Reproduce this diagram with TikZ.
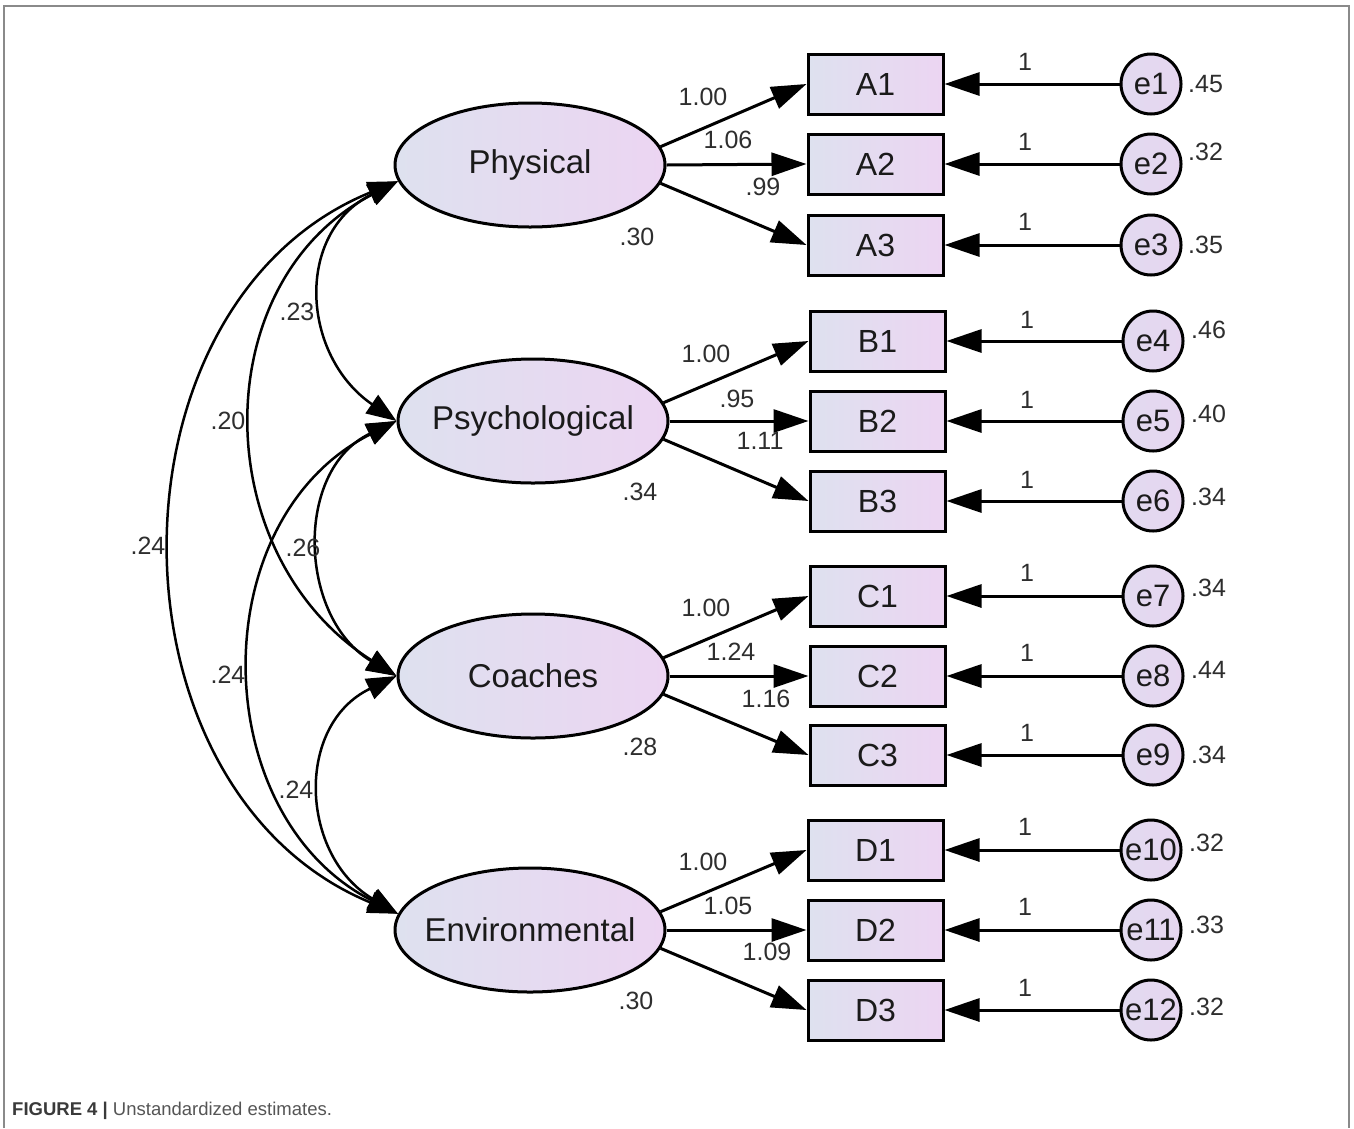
\documentclass[tikz,border=0pt]{standalone}
\usepackage{fontspec}
\setmainfont{Liberation Sans}
\usetikzlibrary{arrows.meta,shapes.geometric}
\definecolor{lc}{HTML}{DEE1EF}
\definecolor{rc}{HTML}{ECD5F2}
\definecolor{ec}{HTML}{E6D6F0}
\definecolor{ecl}{HTML}{E2DAF0}
\definecolor{numc}{HTML}{2E2E2E}
\definecolor{txtc}{HTML}{1A1A1A}
\definecolor{framec}{HTML}{8A8A8A}
\definecolor{capb}{HTML}{3A3A3A}
\definecolor{capg}{HTML}{555555}
\begin{document}
\begin{tikzpicture}[x=1pt,y=-1pt,
  lat/.style={ellipse,draw=black,line width=3pt,minimum width=270pt,minimum height=124pt,inner sep=0pt,left color=lc,right color=rc},
  lattxt/.style={text=txtc,font=\fontsize{33}{38}\selectfont,inner sep=0pt},
  obs/.style={rectangle,draw=black,line width=3pt,minimum width=135pt,minimum height=60pt,inner sep=0pt,left color=lc,right color=rc,text=txtc,font=\fontsize{32}{36}\selectfont},
  err/.style={circle,draw=black,line width=3pt,minimum size=60pt,inner sep=0pt,left color=ecl,right color=ec,text=txtc,font=\fontsize{31}{36}\selectfont},
  num/.style={text=numc,font=\fontsize{25}{29}\selectfont,inner sep=0pt},
  load/.style={draw=black,line width=3pt,-{Triangle[length=35pt,width=23pt]}},
  cov/.style={draw=black,line width=2.5pt,{Triangle[length=30pt,width=22pt]}-{Triangle[length=30pt,width=22pt]}}
]
\useasboundingbox (0,0) rectangle (1354,1128);
\fill[white] (0,0) rectangle (1354,1128);
\draw[framec,line width=2pt] (4,1128) -- (4,6) -- (1349,6) -- (1349,1128);

% latent variables
\node[lat] (P) at (530,165) {};
\node[lattxt] (Pt) at (P) {Physical};
\node[lat] (S) at (533,421) {};
\node[lattxt] (St) at (S) {Psychological};
\node[lat] (C) at (533,676) {};
\node[lattxt] (Ct) at (C) {Coaches};
\node[lat] (E) at (530,930) {};
\node[lattxt] (Et) at (E) {Environmental};

% observed
\node[obs] (A1) at (875.5,84) {A1};
\node[obs] (A2) at (875.5,164) {A2};
\node[obs] (A3) at (875.5,245) {A3};
\node[obs] (B1) at (877.5,341) {B1};
\node[obs] (B2) at (877.5,421) {B2};
\node[obs] (B3) at (877.5,501) {B3};
\node[obs] (C1) at (877.5,596) {C1};
\node[obs] (C2) at (877.5,676) {C2};
\node[obs] (C3) at (877.5,755) {C3};
\node[obs] (D1) at (875.5,850) {D1};
\node[obs] (D2) at (875.5,930) {D2};
\node[obs] (D3) at (875.5,1010) {D3};

% errors
\node[err] (e1) at (1151,84) {e1};
\node[err] (e2) at (1151,164) {e2};
\node[err] (e3) at (1151,245) {e3};
\node[err] (e4) at (1153,341) {e4};
\node[err] (e5) at (1153,421) {e5};
\node[err] (e6) at (1153,501) {e6};
\node[err] (e7) at (1153,596) {e7};
\node[err] (e8) at (1153,676) {e8};
\node[err] (e9) at (1153,755) {e9};
\node[err] (e10) at (1151,850) {e10};
\node[err] (e11) at (1151,930) {e11};
\node[err] (e12) at (1151,1010) {e12};

% loadings
\foreach \L/\a/\b/\c in {P/A1/A2/A3,S/B1/B2/B3,C/C1/C2/C3,E/D1/D2/D3}{
  \draw[load] (\L.8) -- (\a.west);
  \draw[load] (\L.east) -- (\b.west);
  \draw[load] (\L.-8) -- (\c.west);
}
% error paths
\foreach \e/\o in {e1/A1,e2/A2,e3/A3,e4/B1,e5/B2,e6/B3,e7/C1,e8/C2,e9/C3,e10/D1,e11/D2,e12/D3}{
  \draw[load] (\e) -- (\o.east);
}

% covariances
\draw[cov] (P.187) .. controls +(-104,52) and +(-95,-65) .. (S.west);
\draw[cov] (P.187) .. controls +(-193,100) and +(-190,-120) .. (C.west);
\draw[cov] (P.187) .. controls +(-300,122) and +(-299,-123) .. (E.173);
\draw[cov] (S.west) .. controls +(-103,49) and +(-98,-58) .. (C.west);
\draw[cov] (S.west) .. controls +(-195,99) and +(-192,-98) .. (E.173);
\draw[cov] (C.west) .. controls +(-102,49) and +(-98,-58) .. (E.173);

% covariance labels
\node[num] (k1) at (297,312) {.23};
\node[num] (k2) at (228,421) {.20};
\node[num] (k3) at (148,546) {.24};
\node[num] (k4) at (303,548) {.26};
\node[num] (k5) at (228,675) {.24};
\node[num] (k6) at (296,790) {.24};

% loading labels
\node[num] (l1) at (703,97) {1.00};
\node[num] (l2) at (728,140) {1.06};
\node[num] (l3) at (763,187) {.99};
\node[num] (l4) at (706,354) {1.00};
\node[num] (l5) at (737,399) {.95};
\node[num] (l6) at (760,441) {1.11};
\node[num] (l7) at (706,608) {1.00};
\node[num] (l8) at (731,652) {1.24};
\node[num] (l9) at (766,699) {1.16};
\node[num] (l10) at (703,862) {1.00};
\node[num] (l11) at (728,906) {1.05};
\node[num] (l12) at (767,952) {1.09};

% latent variances
\node[num] (v1) at (637,237) {.30};
\node[num] (v2) at (640,492) {.34};
\node[num] (v3) at (640,747) {.28};
\node[num] (v4) at (636,1001) {.30};

% ones
\foreach \x/\y [count=\i] in {1025/62,1025/142,1025/222,1027/320,1027/400,1027/480,1027/573,1027/653,1027/733,1025/827,1025/907,1025/988}{
  \node[num] (one\i) at (\x,\y) {1};
}

% error variances
\node[num,anchor=west] (u1) at (1188,84) {.45};
\node[num,anchor=west] (u2) at (1188,152) {.32};
\node[num,anchor=west] (u3) at (1188,245) {.35};
\node[num,anchor=west] (u4) at (1191,330) {.46};
\node[num,anchor=west] (u5) at (1191,414) {.40};
\node[num,anchor=west] (u6) at (1191,497) {.34};
\node[num,anchor=west] (u7) at (1191,588) {.34};
\node[num,anchor=west] (u8) at (1191,670) {.44};
\node[num,anchor=west] (u9) at (1191,755) {.34};
\node[num,anchor=west] (u10) at (1189,843) {.32};
\node[num,anchor=west] (u11) at (1189,925) {.33};
\node[num,anchor=west] (u12) at (1189,1007) {.32};

% caption
\node[anchor=base west,inner sep=0pt,font=\fontsize{18.5}{22}\selectfont] (cap) at (12,1115) {\textcolor{capb}{\bfseries FIGURE 4 |} \textcolor{capg}{Unstandardized estimates.}};
\end{tikzpicture}
\end{document}
